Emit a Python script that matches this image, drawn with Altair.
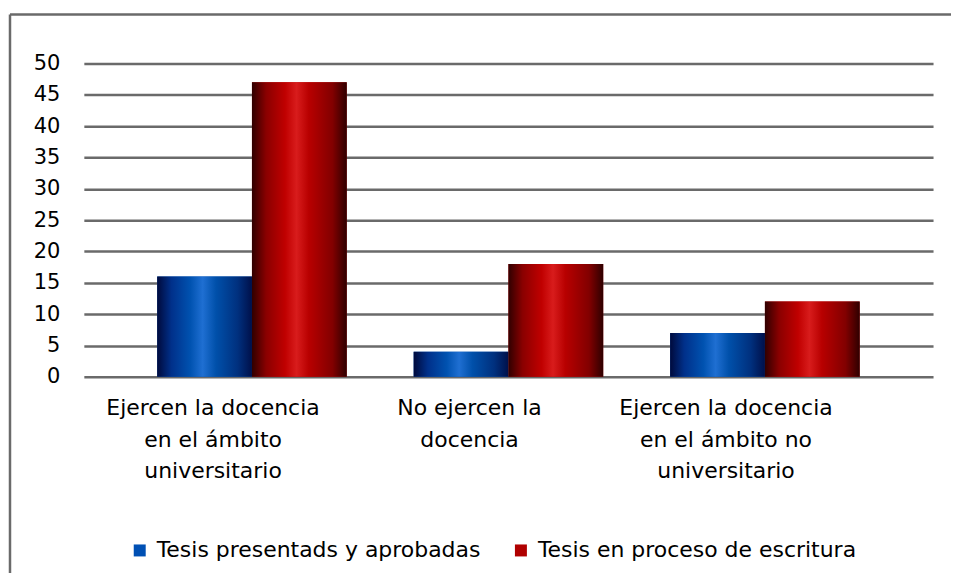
import altair as alt
import pandas as pd

categories = [
    "Ejercen la docencia\nen el ámbito\nuniversitario",
    "No ejercen la\ndocencia",
    "Ejercen la docencia\nen el ámbito no\nuniversitario",
]
series = ["Tesis presentads y aprobadas", "Tesis en proceso de escritura"]
aprobadas = [16, 4, 7]
escritura = [47, 18, 12]
y_ticks = [0, 5, 10, 15, 20, 25, 30, 35, 40, 45, 50]
legend_colors = ["#0050b4", "#b00000"]

rows = []
for c, a, e in zip(categories, aprobadas, escritura):
    rows.append({"cat": c, "serie": series[0], "value": a})
    rows.append({"cat": c, "serie": series[1], "value": e})
df = pd.DataFrame(rows)

FONT = "DejaVu Sans"
FS = 22
FS_Y = 21

blue_grad = {
    "gradient": "linear", "x1": 0, "y1": 0, "x2": 1, "y2": 0,
    "stops": [
        {"offset": 0.0, "color": "#000a3c"},
        {"offset": 0.15, "color": "#00308a"},
        {"offset": 0.35, "color": "#0052b0"},
        {"offset": 0.48, "color": "#1f6fd2"},
        {"offset": 0.62, "color": "#0050aa"},
        {"offset": 0.85, "color": "#00307e"},
        {"offset": 1.0, "color": "#00104a"},
    ],
}
red_grad = {
    "gradient": "linear", "x1": 0, "y1": 0, "x2": 1, "y2": 0,
    "stops": [
        {"offset": 0.0, "color": "#300000"},
        {"offset": 0.15, "color": "#8a0000"},
        {"offset": 0.35, "color": "#c00000"},
        {"offset": 0.47, "color": "#d81c1c"},
        {"offset": 0.6, "color": "#b80000"},
        {"offset": 0.85, "color": "#820000"},
        {"offset": 1.0, "color": "#2e0000"},
    ],
}

x_enc = alt.X(
    "cat:N", sort=categories, title=None,
    scale=alt.Scale(paddingInner=0.261, paddingOuter=0.286),
    axis=alt.Axis(
        labelExpr="split(datum.label, '\\n')", labelAngle=0, labelFont=FONT,
        labelFontSize=FS, labelColor="#000000", labelLineHeight=31.5,
        labelOffset=-39, labelPadding=21, labelBaseline="top", labelLimit=0,
        domain=False, ticks=False, grid=False,
    ),
)
xo_enc = alt.XOffset("serie:N", sort=series, scale=alt.Scale(paddingInner=0, paddingOuter=0))
y_enc = alt.Y(
    "value:Q", title=None,
    scale=alt.Scale(domain=[0, 50], nice=False),
    axis=alt.Axis(
        values=y_ticks, labelFont=FONT, labelFontSize=FS_Y, labelColor="#000000",
        labelPadding=24, domain=False, ticks=False, grid=True,
        gridColor="#6a6a6a", gridWidth=2.5, gridOpacity=1,
    ),
)

base = alt.Chart(df)

legend_layer = base.mark_bar().encode(
    x=x_enc, xOffset=xo_enc, y=y_enc,
    color=alt.Color(
        "serie:N", sort=series,
        scale=alt.Scale(domain=series, range=legend_colors),
        legend=alt.Legend(
            title=None, orient="none", legendX=45, legendY=477,
            direction="horizontal", symbolType="square", symbolSize=144,
            symbolStrokeWidth=0, labelFont=FONT, labelFontSize=FS,
            labelColor="#000000", columnPadding=29, labelOffset=6, padding=0,
            labelLimit=0,
        ),
    ),
)

blue_layer = base.mark_bar(fill=blue_grad).encode(
    x=x_enc, xOffset=xo_enc, y=y_enc
).transform_filter(alt.datum.serie == series[0])

red_layer = base.mark_bar(fill=red_grad).encode(
    x=x_enc, xOffset=xo_enc, y=y_enc
).transform_filter(alt.datum.serie == series[1])

frame_data = alt.Data(values=[{"k": 0}])
frame_left = alt.Chart(frame_data).mark_rule(color="#6a6a6a", strokeWidth=2.5).encode(
    x=alt.value(-74), y=alt.value(-49), y2=alt.value(560)
)
frame_top = alt.Chart(frame_data).mark_rule(color="#6a6a6a", strokeWidth=2.5).encode(
    x=alt.value(-74), x2=alt.value(900), y=alt.value(-49)
)

chart = alt.layer(
    legend_layer, blue_layer, red_layer, frame_left, frame_top
).properties(
    width=851, height=314,
    autosize=alt.AutoSizeParams(type="none"),
    padding={"left": 76, "top": 55, "right": 18, "bottom": 196},
    background="#ffffff",
).configure_view(stroke=None)

chart.save("out.html", embed_options={"renderer": "svg", "actions": False})
